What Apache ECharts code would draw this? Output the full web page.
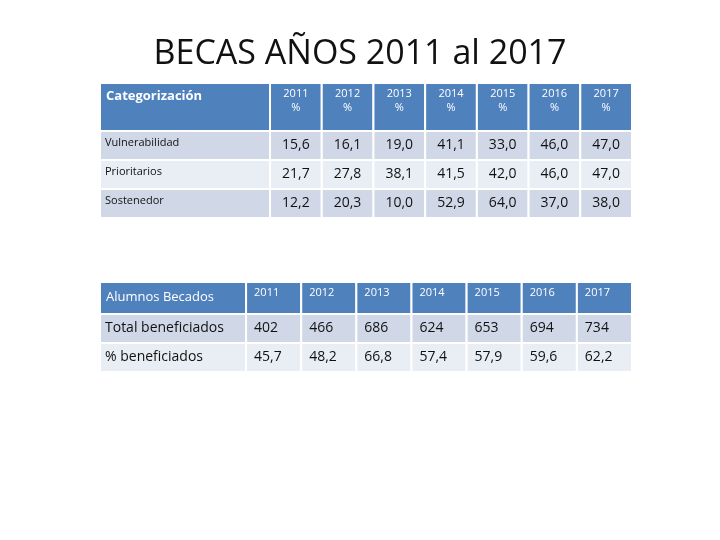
<!DOCTYPE html>
<html>
<head>
<meta charset="utf-8">
<script src="https://cdn.jsdelivr.net/npm/echarts@6/dist/echarts.min.js"></script>
<style>html,body{margin:0;background:#fff}#chart{width:720px;height:540px}</style>
</head>
<body>
<div id="chart"></div>
<script>
const years = ["2011", "2012", "2013", "2014", "2015", "2016", "2017"];

const categories = ["Vulnerabilidad", "Prioritarios", "Sostenedor"];
const vulnerabilidad = ["15,6", "16,1", "19,0", "41,1", "33,0", "46,0", "47,0"];
const prioritarios = ["21,7", "27,8", "38,1", "41,5", "42,0", "46,0", "47,0"];
const sostenedor = ["12,2", "20,3", "10,0", "52,9", "64,0", "37,0", "38,0"];

const alumnosRows = ["Total beneficiados", "% beneficiados"];
const totalBeneficiados = ["402", "466", "686", "624", "653", "694", "734"];
const pctBeneficiados = ["45,7", "48,2", "66,8", "57,4", "57,9", "59,6", "62,2"];

const FONT = "Open Sans";
const HEADER = "#4f81bd";
const ROW_DARK = "#d0d8e8";
const ROW_LIGHT = "#e9edf4";

// cell: [col, rowStart, rowEnd, text, kind]   col -1 = label column
const buildCells = (headerTitle, yearHeader, rowNames, rowValues, headerSpan) => {
    const cells = [];
    cells.push([-1, 0, headerSpan, headerTitle, "hlabel"]);
    years.forEach((y, i) => cells.push([i, 0, headerSpan, yearHeader(y), "hyear"]));
    rowNames.forEach((name, r) => {
        const y0 = headerSpan + r, y1 = y0 + 1;
        const kind = r % 2 === 0 ? "dark" : "light";
        cells.push([-1, y0, y1, name, kind + "label"]);
        rowValues[r].forEach((v, i) => cells.push([i, y0, y1, v, kind]));
    });
    return cells;
};

const cells1 = buildCells("Categorización", y => y + "\n%", categories,
    [vulnerabilidad, prioritarios, sostenedor], 1.65);
const cells2 = buildCells("Alumnos Becados", y => y, alumnosRows,
    [totalBeneficiados, pctBeneficiados], 1.1);

const makeRender = (xMin, opts) => (params, api) => {
    const col = api.value(0);
    const x0 = col < 0 ? xMin : col, x1 = col < 0 ? 0 : col + 1;
    const p0 = api.coord([x0, api.value(1)]);
    const p1 = api.coord([x1, api.value(2)]);
    const item = opts.data[params.dataIndex];
    const kind = item[4];
    const isHeader = kind.startsWith("h");
    const isLabel = col < 0;
    const fill = isHeader ? HEADER : (kind.startsWith("dark") ? ROW_DARK : ROW_LIGHT);
    const left = Math.min(p0[0], p1[0]), top = Math.min(p0[1], p1[1]);
    const w = Math.abs(p1[0] - p0[0]), h = Math.abs(p1[1] - p0[1]);
    let fontSize, tx, ty, vAlign = "top", align = "left", weight = "normal";
    if (kind === "hyear") {
        fontSize = 11; tx = left + w / 2; ty = top + 4; align = "center";
        if (opts.yearLeft) { align = "left"; tx = left + 8; }
    } else if (kind === "hlabel") {
        fontSize = 13; tx = left + 6; ty = top + opts.hlabelTop; weight = opts.hlabelWeight;
    } else if (isLabel) {
        fontSize = opts.labelSize; tx = left + 5;
        if (opts.labelMiddle) { ty = top + h / 2; vAlign = "middle"; } else { ty = top + 5; }
    } else {
        fontSize = 14; tx = left + opts.valuePad; ty = top + h / 2; vAlign = "middle";
    }
    return {
        type: "group",
        children: [
            { type: "rect", shape: { x: left, y: top, width: w, height: h },
              style: { fill: fill, stroke: "#fff", lineWidth: 2 } },
            { type: "text", x: tx, y: ty,
              style: { text: item[3], fill: isHeader ? "#fff" : "#111", fontFamily: FONT,
                       fontSize: fontSize, fontWeight: weight, align: align,
                       verticalAlign: vAlign, lineHeight: 14 } }
        ]
    };
};

const x1Min = -170 / 51.7, x2Min = -146 / 55.1;

const chart = echarts.init(document.getElementById("chart"));
chart.setOption({
    animation: false,
    title: {
        text: "BECAS AÑOS 2011 al 2017", left: "center", top: 32,
        textStyle: { fontFamily: FONT, fontSize: 34, fontWeight: "normal", color: "#111" }
    },
    grid: [
        { left: 100, top: 83, width: 532, height: 135 },
        { left: 100, top: 282, width: 532, height: 90 }
    ],
    xAxis: [
        { type: "value", gridIndex: 0, min: x1Min, max: 7, show: false },
        { type: "value", gridIndex: 1, min: x2Min, max: 7, show: false }
    ],
    yAxis: [
        { type: "value", gridIndex: 0, min: 0, max: 4.65, inverse: true, show: false },
        { type: "value", gridIndex: 1, min: 0, max: 3.1, inverse: true, show: false }
    ],
    series: [
        { type: "custom", xAxisIndex: 0, yAxisIndex: 0, data: cells1,
          renderItem: makeRender(x1Min, { data: cells1, hlabelTop: 6, hlabelWeight: "bold",
                                          labelSize: 11, labelMiddle: false, valuePad: 12, yearLeft: false }) },
        { type: "custom", xAxisIndex: 1, yAxisIndex: 1, data: cells2,
          renderItem: makeRender(x2Min, { data: cells2, hlabelTop: 8, hlabelWeight: "normal",
                                          labelSize: 14, labelMiddle: true, valuePad: 8, yearLeft: true }) }
    ]
});
</script>
</body>
</html>
